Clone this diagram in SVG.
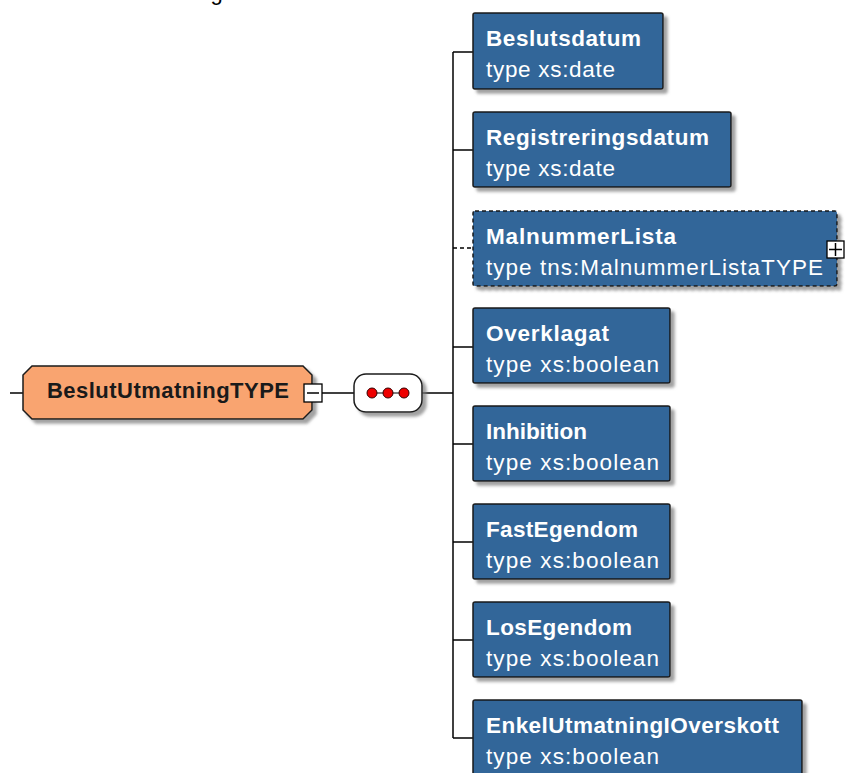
<svg xmlns="http://www.w3.org/2000/svg" width="845" height="773" viewBox="0 0 845 773">
<defs>
<filter id="sh" x="-10%" y="-10%" width="130%" height="140%">
<feDropShadow dx="4" dy="4" stdDeviation="1.5" flood-color="#7a7a7a" flood-opacity="0.7"/>
</filter>
<style>
.box{fill:#336699;stroke:#1a1a1a;stroke-width:1.5;filter:url(#sh)}
.dash{stroke-dasharray:4 3}
.nm{font-family:"Liberation Sans",Arial,sans-serif;font-size:22.5px;font-weight:bold;fill:#ffffff}
.tp{font-family:"Liberation Sans",Arial,sans-serif;font-size:22.5px;fill:#ffffff}
.ln{stroke:#000;stroke-width:1.5;fill:none}
.pm{fill:#fff;stroke:#000;stroke-width:1.3}
</style>
</defs>
<rect width="845" height="773" fill="#ffffff"/>
<text x="210.5" y="-0.5" font-family="'Liberation Sans',Arial,sans-serif" font-size="22" fill="#000">g</text>

<g id="connectors">
<line class="ln" x1="10" y1="393" x2="23" y2="393"/>
<line class="ln" x1="322" y1="393" x2="354" y2="393"/>
<line class="ln" x1="422" y1="393" x2="453" y2="393"/>
<line class="ln" x1="453" y1="52" x2="453" y2="738"/>
<line class="ln" x1="453" y1="52" x2="473" y2="52"/>
<line class="ln" x1="453" y1="150" x2="473" y2="150"/>
<line class="ln dash" x1="453" y1="248" x2="473" y2="248"/>
<line class="ln" x1="453" y1="347" x2="473" y2="347"/>
<line class="ln" x1="453" y1="444" x2="473" y2="444"/>
<line class="ln" x1="453" y1="542" x2="473" y2="542"/>
<line class="ln" x1="453" y1="640" x2="473" y2="640"/>
<line class="ln" x1="453" y1="738" x2="473" y2="738"/>
</g>

<g id="BeslutUtmatningTYPE">
<polygon points="32,366 303,366 312,375 312,410 303,419 32,419 23,410 23,375" fill="#f9a46f" stroke="#1a1a1a" stroke-width="1.5" filter="url(#sh)"/>
<text x="47" y="398" font-family="'Liberation Sans',Arial,sans-serif" font-size="22" font-weight="bold" fill="#1a1a1a" textLength="242" lengthAdjust="spacing">BeslutUtmatningTYPE</text>
<rect class="pm" x="304" y="384" width="18" height="18"/>
<line x1="307" y1="393" x2="319" y2="393" stroke="#000" stroke-width="1.5"/>
</g>

<g id="sequence">
<rect x="354" y="374" width="68" height="38" rx="12" ry="12" fill="#fff" stroke="#1a1a1a" stroke-width="1.5" filter="url(#sh)"/>
<line x1="372" y1="393" x2="404" y2="393" stroke="#000" stroke-width="1"/>
<circle cx="372" cy="393" r="5" fill="#ee0000" stroke="#300" stroke-width="1"/>
<circle cx="388" cy="393" r="5" fill="#ee0000" stroke="#300" stroke-width="1"/>
<circle cx="404" cy="393" r="5" fill="#ee0000" stroke="#300" stroke-width="1"/>
</g>

<g id="Beslutsdatum">
<rect class="box" x="473" y="13" width="190" height="76" rx="2"/>
<text class="nm" x="486" y="46" textLength="155" lengthAdjust="spacing">Beslutsdatum</text>
<text class="tp" x="486" y="77" textLength="129" lengthAdjust="spacing">type xs:date</text>
</g>

<g id="Registreringsdatum">
<rect class="box" x="473" y="112" width="258" height="75" rx="2"/>
<text class="nm" x="486" y="145" textLength="223" lengthAdjust="spacing">Registreringsdatum</text>
<text class="tp" x="486" y="176" textLength="129" lengthAdjust="spacing">type xs:date</text>
</g>

<g id="MalnummerLista">
<rect class="box dash" x="473" y="211" width="364" height="75" rx="2"/>
<text class="nm" x="486" y="244" textLength="190" lengthAdjust="spacing">MalnummerLista</text>
<text class="tp" x="486" y="275" textLength="337" lengthAdjust="spacing">type tns:MalnummerListaTYPE</text>
<rect class="pm" x="827" y="241" width="17" height="17"/>
<line x1="829" y1="249.5" x2="842" y2="249.5" stroke="#000" stroke-width="1.5"/>
<line x1="835.5" y1="243" x2="835.5" y2="256" stroke="#000" stroke-width="1.5"/>
</g>

<g id="Overklagat">
<rect class="box" x="473" y="308" width="197" height="75" rx="2"/>
<text class="nm" x="486" y="341" textLength="123" lengthAdjust="spacing">Overklagat</text>
<text class="tp" x="486" y="372" textLength="173" lengthAdjust="spacing">type xs:boolean</text>
</g>

<g id="Inhibition">
<rect class="box" x="473" y="406" width="197" height="75" rx="2"/>
<text class="nm" x="486" y="439" textLength="101" lengthAdjust="spacing">Inhibition</text>
<text class="tp" x="486" y="470" textLength="173" lengthAdjust="spacing">type xs:boolean</text>
</g>

<g id="FastEgendom">
<rect class="box" x="473" y="504" width="197" height="75" rx="2"/>
<text class="nm" x="486" y="537" textLength="152" lengthAdjust="spacing">FastEgendom</text>
<text class="tp" x="486" y="568" textLength="173" lengthAdjust="spacing">type xs:boolean</text>
</g>

<g id="LosEgendom">
<rect class="box" x="473" y="602" width="197" height="75" rx="2"/>
<text class="nm" x="486" y="635" textLength="146" lengthAdjust="spacing">LosEgendom</text>
<text class="tp" x="486" y="666" textLength="173" lengthAdjust="spacing">type xs:boolean</text>
</g>

<g id="EnkelUtmatningIOverskott">
<rect class="box" x="473" y="700" width="329" height="76" rx="2"/>
<text class="nm" x="486" y="733" textLength="293" lengthAdjust="spacing">EnkelUtmatningIOverskott</text>
<text class="tp" x="486" y="764" textLength="173" lengthAdjust="spacing">type xs:boolean</text>
</g>
</svg>
